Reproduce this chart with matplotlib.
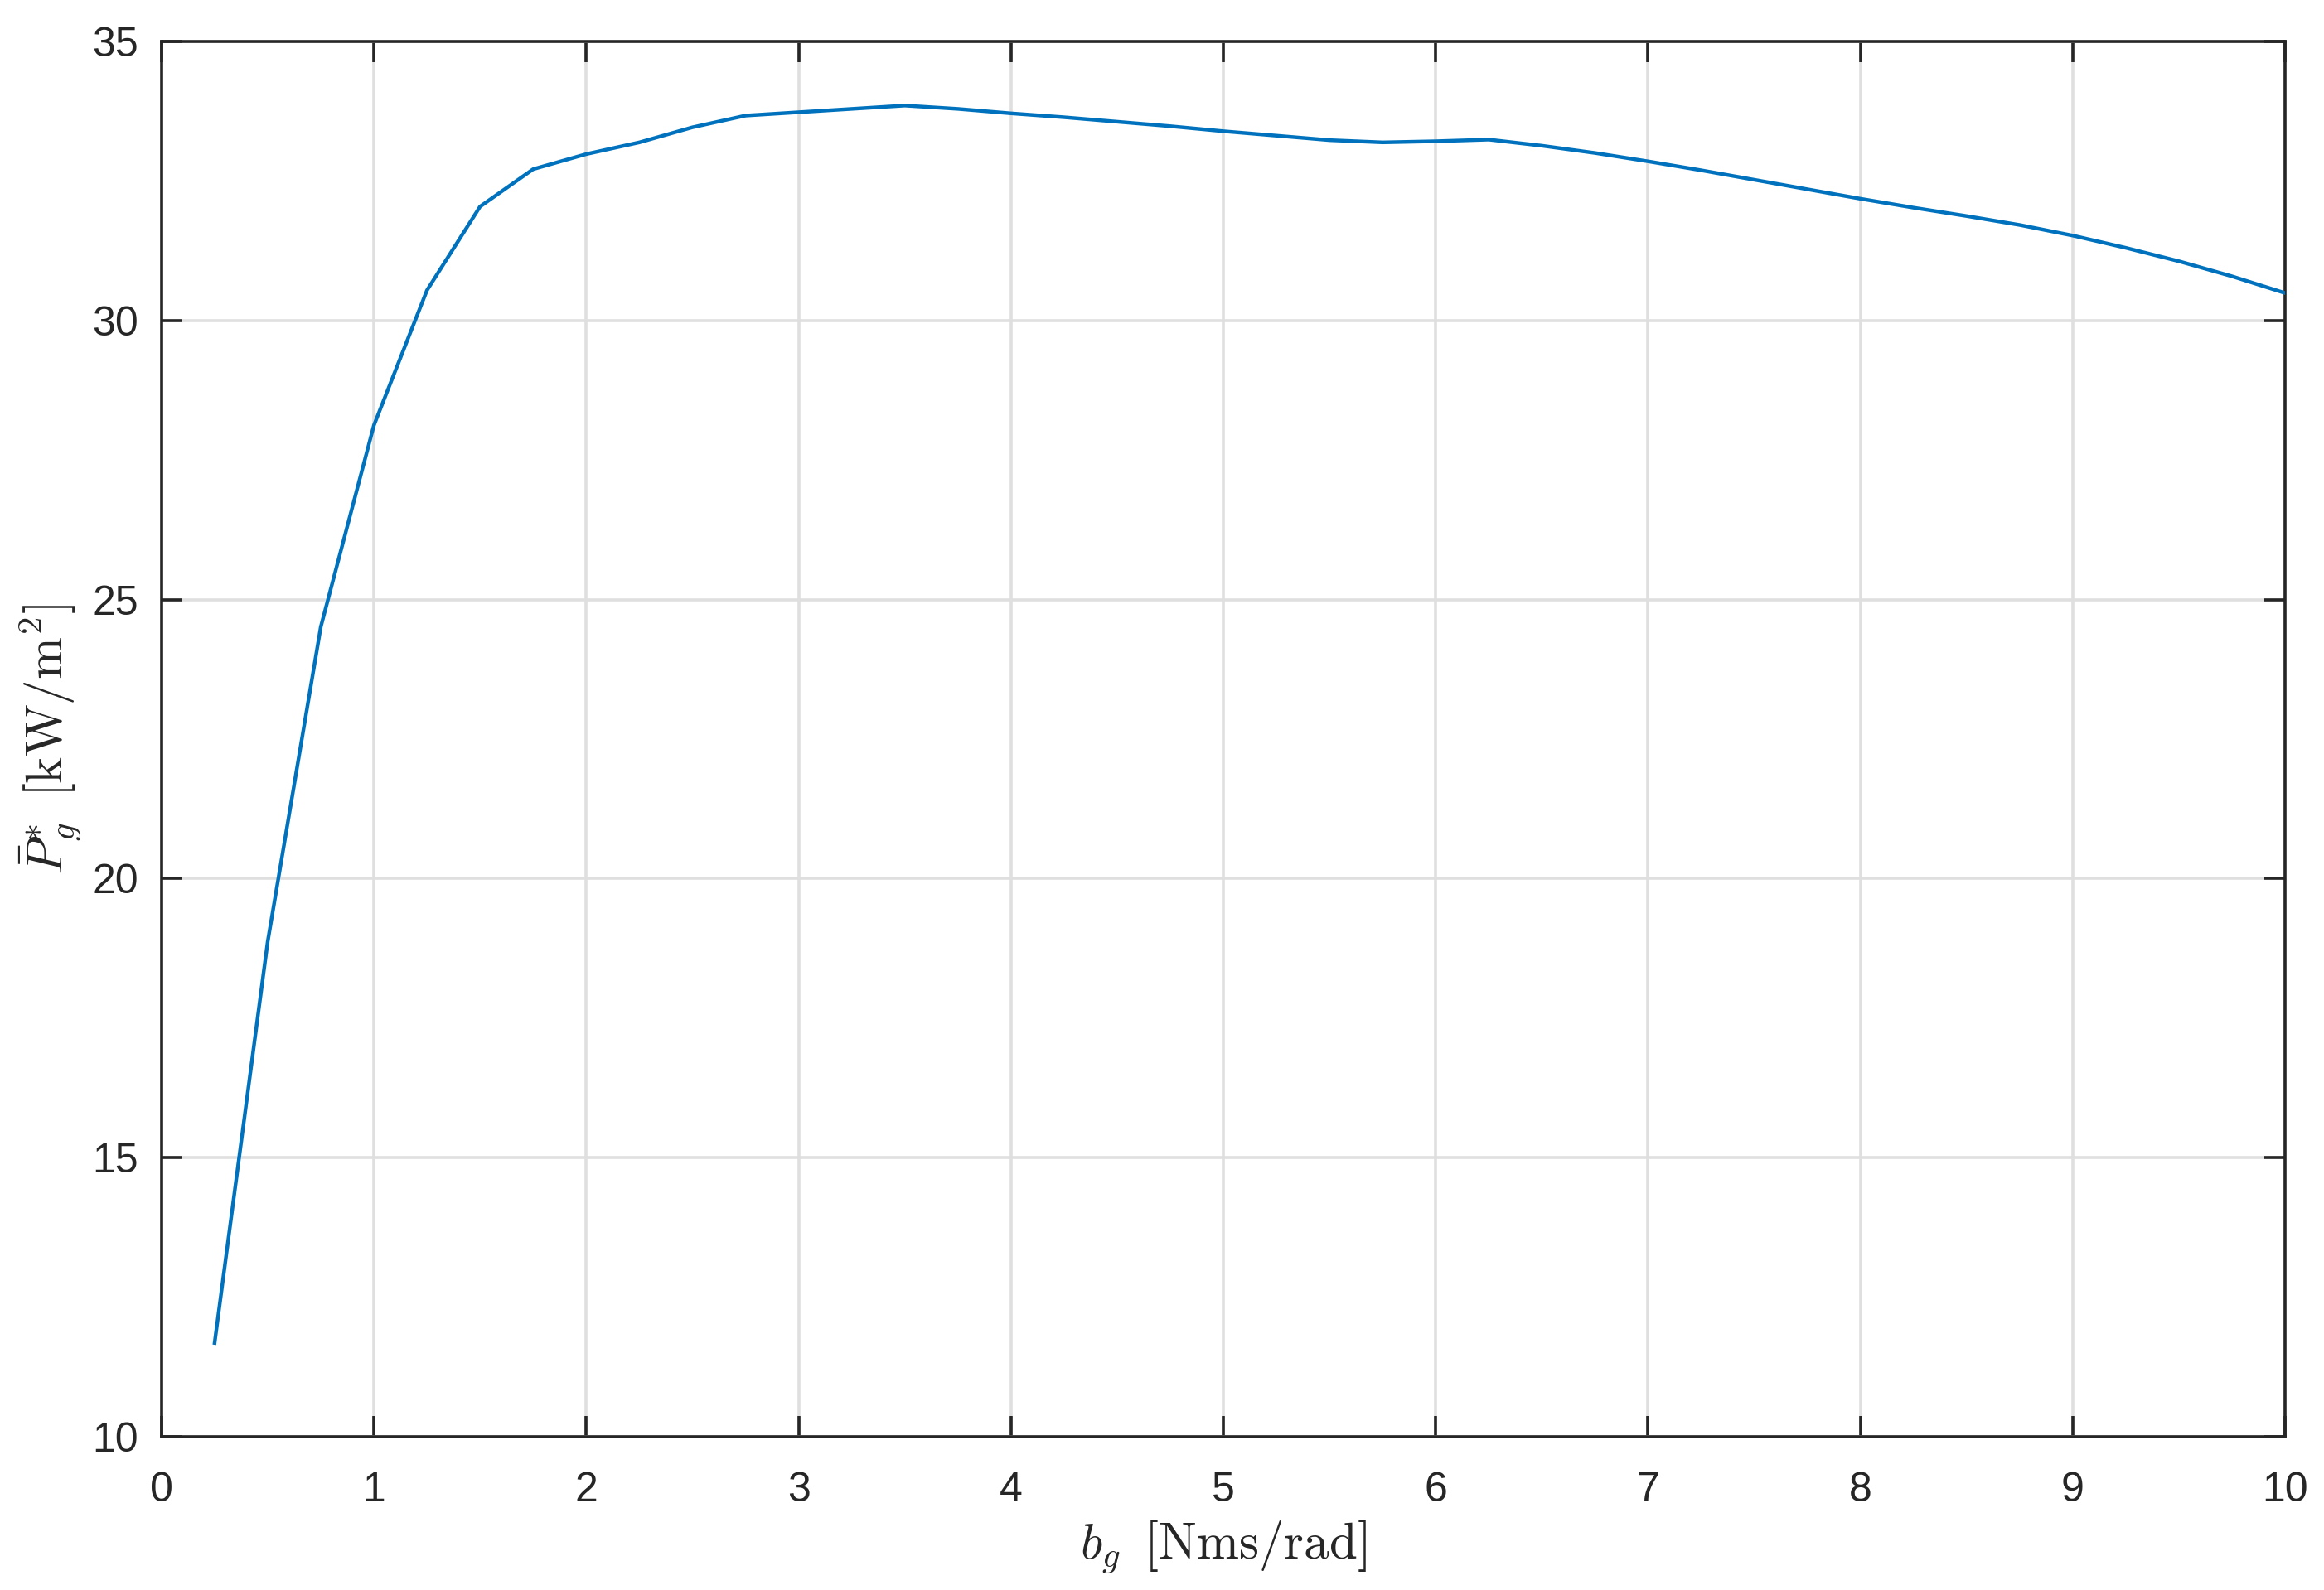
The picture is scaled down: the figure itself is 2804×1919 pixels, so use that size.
import matplotlib
matplotlib.use("Agg")
import matplotlib.pyplot as plt

b_g = [0.25, 0.5, 0.75, 1.0, 1.25, 1.5, 1.75, 2.0, 2.25, 2.5, 2.75, 3.0, 3.25, 3.5,
       3.75, 4.0, 4.25, 4.5, 4.75, 5.0, 5.25, 5.5, 5.75, 6.0, 6.25, 6.5, 6.75, 7.0,
       7.25, 7.5, 7.75, 8.0, 8.25, 8.5, 8.75, 9.0, 9.25, 9.5, 9.75, 10.0]
P_g = [11.68, 18.87, 24.51, 28.12, 30.54, 32.04, 32.71, 32.98, 33.19, 33.46, 33.67,
       33.73, 33.79, 33.85, 33.79, 33.71, 33.64, 33.56, 33.48, 33.39, 33.31, 33.23,
       33.19, 33.21, 33.24, 33.13, 33.00, 32.85, 32.69, 32.52, 32.35, 32.18, 32.02,
       31.87, 31.71, 31.52, 31.30, 31.06, 30.79, 30.49]
xticks = list(range(0, 11))
yticks = [10, 15, 20, 25, 30, 35]

plt.rcParams['mathtext.fontset'] = 'cm'
plt.rcParams['font.family'] = ['Liberation Sans', 'DejaVu Sans']

fig = plt.figure(figsize=(14.02, 9.595), dpi=200)
ax = fig.add_axes([0.0695, 0.0964, 0.9138, 0.8776])
ax.plot(b_g, P_g, color='#0072BD', lw=1.6, zorder=3)
ax.set_xlim(0, 10)
ax.set_ylim(10, 35)
ax.set_xticks(xticks)
ax.set_yticks(yticks)
ax.grid(True, color='#DFDFDF', lw=1.3, zorder=0)
ax.set_axisbelow(True)
ax.tick_params(direction='in', length=9, width=1.3, top=True, right=True,
               labelsize=18, colors='#262626', pad=10)
ax.tick_params(axis='x', pad=15)
for s in ax.spines.values():
    s.set_linewidth(1.3)
    s.set_color('#262626')
ax.set_xlabel(r'$b_g\ \,[\mathrm{Nms/rad}]$', fontsize=22, labelpad=4, color='#262626')
ax.set_ylabel(r'$\bar{P}_g^{*}\ \,[\mathrm{kW/m^2}]$', fontsize=22, labelpad=4, color='#262626')
fig.savefig('out.png', dpi=200)
